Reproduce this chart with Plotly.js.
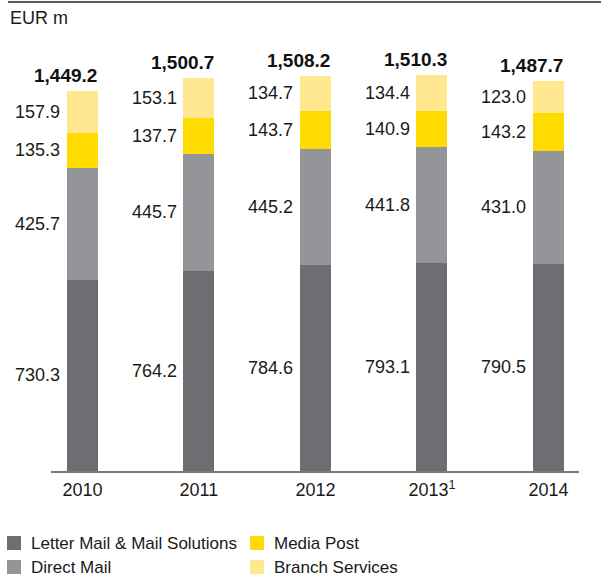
<!DOCTYPE html>
<html>
<head>
<meta charset="utf-8">
<script src="https://cdn.plot.ly/plotly-3.0.1.min.js"></script>
<style>html,body{margin:0;padding:0;background:#fff;}#chart{width:601px;height:577px;}</style>
</head>
<body>
<div id="chart"></div>
<script>
const years = ['2010', '2011', '2012', '2013', '2014'];
const tickLabels = ['2010', '2011', '2012', '2013<sup>1</sup>', '2014'];
const letterMail = [730.3, 764.2, 784.6, 793.1, 790.5];
const directMail = [425.7, 445.7, 445.2, 441.8, 431.0];
const mediaPost = [135.3, 137.7, 143.7, 140.9, 143.2];
const branchServices = [157.9, 153.1, 134.7, 134.4, 123.0];
const totals = [1449.2, 1500.7, 1508.2, 1510.3, 1487.7];
const seriesNames = ['Letter Mail & Mail Solutions', 'Direct Mail', 'Media Post', 'Branch Services'];

const FONT = '"Liberation Sans", Arial, Helvetica, sans-serif';
const colors = ['#6d6e71', '#939598', '#ffdb00', '#ffe88f'];
const series = [letterMail, directMail, mediaPost, branchServices];
const xs = years.map((_, i) => i);
const BAR_W = 0.266;

// plot area geometry in pixels (for paper-coordinate helpers)
const PL = 51, PW = 528, PB = 471, PH = 431;
const px = (v) => (v - PL) / PW;
const py = (v) => (PB - v) / PH;

const traces = series.map((vals, s) => ({
  type: 'bar',
  name: seriesNames[s],
  x: xs,
  y: vals,
  width: BAR_W,
  marker: {color: colors[s], line: {width: 0}},
  showlegend: false,
  hoverinfo: 'skip'
}));

const annotations = [];
xs.forEach((x, i) => {
  let base = 0;
  series.forEach((vals) => {
    const v = vals[i];
    annotations.push({
      x: x, y: base + v / 2, xref: 'x', yref: 'y',
      text: v.toFixed(1), showarrow: false,
      xanchor: 'right', yanchor: 'middle', xshift: -20,
      font: {family: FONT, size: 18, color: '#1a1a1a'}
    });
    base += v;
  });
  annotations.push({
    x: x, y: totals[i], xref: 'x', yref: 'y',
    text: '<b>' + totals[i].toLocaleString('en-US', {minimumFractionDigits: 1, maximumFractionDigits: 1}) + '</b>',
    showarrow: false, xanchor: 'right', yanchor: 'bottom', xshift: 17, yshift: 3,
    font: {family: FONT, size: 19, color: '#111'}
  });
});

annotations.push({
  xref: 'paper', yref: 'paper', x: px(8), y: py(18),
  xanchor: 'left', yanchor: 'middle', showarrow: false, text: 'EUR m',
  font: {family: FONT, size: 18, color: '#1a1a1a'}
});

const shapes = [{
  type: 'line', xref: 'paper', yref: 'paper',
  x0: px(8), x1: px(601), y0: py(2), y1: py(2),
  line: {color: '#222', width: 1.5}
}];

// legend: two columns (Letter Mail / Direct Mail, Media Post / Branch Services)
const legCols = [7, 250];
const legRows = [543, 567];
seriesNames.forEach((name, s) => {
  const col = s < 2 ? 0 : 1;
  const row = s % 2;
  const cx = legCols[col], cy = legRows[row];
  shapes.push({
    type: 'rect', xref: 'paper', yref: 'paper',
    x0: px(cx), x1: px(cx + 14), y0: py(cy - 7), y1: py(cy + 7),
    fillcolor: colors[s], line: {width: 0}
  });
  annotations.push({
    xref: 'paper', yref: 'paper', x: px(cx + 22), y: py(cy),
    xanchor: 'left', yanchor: 'middle', showarrow: false, text: name,
    font: {family: FONT, size: 17, color: '#1a1a1a'}
  });
});

const layout = {
  width: 601, height: 577,
  margin: {l: PL, r: 601 - PL - PW, t: PB - PH, b: 577 - PB, pad: 0},
  paper_bgcolor: '#fff', plot_bgcolor: '#fff',
  barmode: 'stack',
  font: {family: FONT, size: 18, color: '#1a1a1a'},
  xaxis: {
    range: [-0.27, 4.262], tickvals: xs, ticktext: tickLabels,
    showgrid: false, zeroline: false, showline: true, linecolor: '#7a7a7a', linewidth: 1.5,
    ticks: '', ticklabelstandoff: 2, fixedrange: true,
    tickfont: {family: FONT, size: 18, color: '#1a1a1a'}
  },
  yaxis: {
    range: [0, 1645], visible: false, showgrid: false, zeroline: false, fixedrange: true
  },
  showlegend: false,
  shapes: shapes,
  annotations: annotations
};

Plotly.newPlot('chart', traces, layout, {displayModeBar: false, staticPlot: true});
</script>
</body>
</html>
